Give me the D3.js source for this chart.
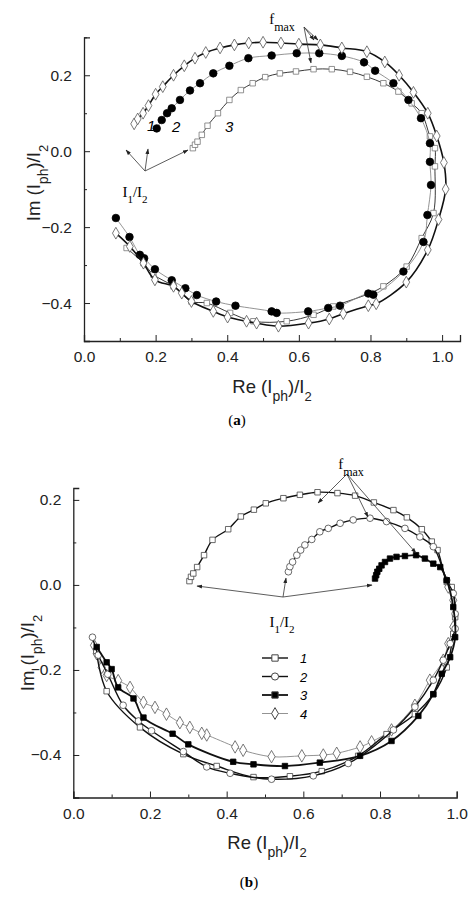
<!DOCTYPE html><html><head><meta charset="utf-8">
<script src="https://cdnjs.cloudflare.com/ajax/libs/d3/7.8.5/d3.min.js"></script>
<style>body{margin:0;background:#fff}svg{display:block}</style></head><body>
<svg id="c" width="474" height="916"></svg>
<script>
const xTicks=[0,0.2,0.4,0.6,0.8,1.0];
const yTicks=[-0.4,-0.2,0.0,0.2];
// panel a
const a1=[[0.14,0.072],[0.15,0.085],[0.165,0.1],[0.18,0.12],[0.2,0.15],[0.22,0.17],[0.25,0.2],[0.28,0.225],[0.31,0.245],[0.34,0.26],[0.38,0.272],[0.42,0.28],[0.46,0.285],[0.5,0.287],[0.55,0.285],[0.6,0.282],[0.66,0.28],[0.72,0.272],[0.79,0.262],[0.84,0.235],[0.88,0.2],[0.92,0.155],[0.96,0.1],[0.985,0.04],[1.005,-0.03],[1.01,-0.1],[0.99,-0.18],[0.96,-0.26],[0.9,-0.345],[0.816,-0.402],[0.794,-0.407],[0.724,-0.428],[0.685,-0.442],[0.627,-0.453],[0.543,-0.461],[0.482,-0.453],[0.454,-0.448],[0.401,-0.437],[0.361,-0.422],[0.3,-0.396],[0.273,-0.374],[0.25,-0.356],[0.198,-0.339],[0.166,-0.295],[0.128,-0.251],[0.089,-0.216]];
const a2=[[0.203,0.06],[0.217,0.082],[0.232,0.1],[0.245,0.113],[0.268,0.135],[0.296,0.16],[0.324,0.179],[0.361,0.205],[0.406,0.225],[0.459,0.245],[0.524,0.252],[0.594,0.258],[0.657,0.258],[0.72,0.251],[0.782,0.234],[0.813,0.212],[0.864,0.179],[0.906,0.135],[0.941,0.087],[0.966,0.021],[0.966,-0.028],[0.969,-0.089],[0.959,-0.168],[0.948,-0.239],[0.892,-0.317],[0.808,-0.378],[0.794,-0.375],[0.715,-0.407],[0.682,-0.413],[0.626,-0.422],[0.538,-0.426],[0.524,-0.422],[0.423,-0.407],[0.369,-0.396],[0.315,-0.379],[0.283,-0.361],[0.245,-0.34],[0.198,-0.311],[0.168,-0.282],[0.156,-0.273],[0.127,-0.226],[0.089,-0.176]];
const a3=[[0.304,0.008],[0.31,0.017],[0.317,0.025],[0.329,0.043],[0.345,0.067],[0.374,0.1],[0.406,0.135],[0.438,0.161],[0.471,0.179],[0.506,0.195],[0.547,0.205],[0.592,0.21],[0.641,0.216],[0.692,0.216],[0.743,0.209],[0.79,0.196],[0.836,0.179],[0.878,0.157],[0.915,0.126],[0.943,0.1],[0.966,0.039],[0.98,0.008],[0.98,-0.04],[0.976,-0.163],[0.943,-0.229],[0.901,-0.304],[0.836,-0.356],[0.799,-0.374],[0.696,-0.409],[0.641,-0.431],[0.566,-0.448],[0.473,-0.448],[0.408,-0.426],[0.343,-0.4],[0.3,-0.396],[0.25,-0.356],[0.194,-0.325],[0.166,-0.295],[0.119,-0.255]];
// panel b
const b1=[[0.303,0.009],[0.307,0.019],[0.313,0.027],[0.323,0.042],[0.341,0.07],[0.363,0.106],[0.404,0.131],[0.437,0.161],[0.471,0.177],[0.502,0.192],[0.548,0.204],[0.591,0.212],[0.637,0.218],[0.689,0.216],[0.735,0.21],[0.784,0.194],[0.835,0.176],[0.87,0.159],[0.909,0.131],[0.935,0.102],[0.95,0.082],[0.974,0.007],[0.987,-0.005],[0.996,-0.076],[0.991,-0.115],[0.974,-0.194],[0.939,-0.257],[0.891,-0.304],[0.817,-0.351],[0.743,-0.402],[0.648,-0.438],[0.565,-0.45],[0.47,-0.452],[0.374,-0.426],[0.287,-0.398],[0.174,-0.335],[0.087,-0.25],[0.06,-0.155]];
const b2=[[0.561,0.031],[0.565,0.043],[0.572,0.054],[0.583,0.07],[0.593,0.082],[0.604,0.094],[0.622,0.107],[0.643,0.125],[0.665,0.133],[0.696,0.145],[0.73,0.153],[0.774,0.157],[0.817,0.149],[0.865,0.133],[0.904,0.113],[0.939,0.09],[0.974,0.011],[0.991,-0.02],[0.996,-0.068],[0.996,-0.103],[0.983,-0.138],[0.965,-0.177],[0.939,-0.224],[0.891,-0.287],[0.835,-0.341],[0.717,-0.42],[0.626,-0.449],[0.517,-0.457],[0.409,-0.443],[0.348,-0.428],[0.287,-0.392],[0.204,-0.343],[0.17,-0.32],[0.13,-0.283],[0.09,-0.21],[0.065,-0.165],[0.05,-0.123]];
const b3=[[0.787,0.015],[0.79,0.023],[0.793,0.031],[0.798,0.038],[0.804,0.046],[0.813,0.054],[0.826,0.062],[0.843,0.066],[0.865,0.068],[0.894,0.07],[0.917,0.062],[0.939,0.05],[0.957,0.042],[0.974,0.011],[0.991,-0.052],[0.996,-0.123],[0.983,-0.17],[0.961,-0.209],[0.939,-0.257],[0.9,-0.308],[0.83,-0.367],[0.748,-0.402],[0.643,-0.418],[0.552,-0.426],[0.47,-0.422],[0.417,-0.416],[0.3,-0.375],[0.259,-0.35],[0.183,-0.312],[0.157,-0.267],[0.117,-0.241],[0.1,-0.198],[0.087,-0.182],[0.061,-0.146]];
const b4=[[0.978,-0.005],[0.991,-0.036],[0.991,-0.099],[0.978,-0.138],[0.965,-0.177],[0.93,-0.224],[0.891,-0.283],[0.83,-0.341],[0.778,-0.369],[0.748,-0.381],[0.687,-0.396],[0.652,-0.4],[0.596,-0.402],[0.517,-0.404],[0.443,-0.389],[0.422,-0.381],[0.348,-0.353],[0.335,-0.349],[0.304,-0.335],[0.278,-0.324],[0.243,-0.304],[0.213,-0.288],[0.183,-0.276],[0.148,-0.241],[0.117,-0.225],[0.087,-0.213],[0.074,-0.194],[0.061,-0.162],[0.054,-0.142]];
const legendLabels=["1","2","3","4"];

const svg=d3.select("#c");
const sym={diamond:d3.symbolDiamond,square:d3.symbolSquare,circle:d3.symbolCircle};
function panel(o){
  const x=d3.scaleLinear().domain([0,o.xmax]).range([o.x0,o.x1]);
  const y=d3.scaleLinear().domain([-0.5,o.ymax]).range([o.y1,o.y0]);
  const g=svg.append("g");
  g.append("g").attr("transform",`translate(0,${o.y1})`).call(d3.axisBottom(x).tickValues(xTicks).tickFormat(d3.format(".1f")).tickSize(-6).tickPadding(10));
  g.append("g").attr("transform",`translate(0,${o.y1})`).call(d3.axisBottom(x).tickValues(d3.range(0.1,o.xmax,0.2)).tickFormat("").tickSize(-3)).select(".domain").remove();
  g.append("g").attr("transform",`translate(${o.x0},0)`).call(d3.axisLeft(y).tickValues(yTicks).tickFormat(d=>d3.format(".1f")(d).replace("-","\u2212")).tickSize(-6).tickPadding(12));
  g.append("g").attr("transform",`translate(${o.x0},0)`).call(d3.axisLeft(y).tickValues([-0.5,-0.3,-0.1,0.1].concat(o.ymax>0.25?[0.3]:[])).tickFormat("").tickSize(-3)).select(".domain").remove();
  g.selectAll(".domain").attr("stroke","#222").attr("stroke-width",1.3);
  g.selectAll(".tick line").attr("stroke","#222");
  g.selectAll(".tick text").attr("font-family","Arial, Liberation Sans").attr("font-size",15.5).attr("fill","#222");
  const line=d3.line().x(d=>x(d[0])).y(d=>y(d[1])).curve(d3.curveCatmullRom);
  o.series.forEach(s=>{
    g.append("path").attr("d",line(s.data)).attr("fill","none").attr("stroke",s.lc).attr("stroke-width",s.lw);
    g.selectAll(null).data(s.data).join("path").attr("transform",d=>`translate(${x(d[0])},${y(d[1])})`)
     .attr("d",d3.symbol().type(sym[s.m]).size(s.sz)).attr("fill",s.fill).attr("stroke",s.sc).attr("stroke-width",0.8);
  });
  g.append("text").attr("x",o.xl[0]).attr("y",o.xl[1]).attr("text-anchor","middle").attr("font-family","Arial, Liberation Sans").attr("font-size",18.5).attr("fill","#222")
    .html('Re (I<tspan baseline-shift="sub" font-size="14">ph</tspan>)/I<tspan baseline-shift="sub" font-size="13">2</tspan>');
  g.append("text").attr("transform",`translate(${o.yl[0]},${o.yl[1]}) rotate(-90)`).attr("text-anchor","middle").attr("font-family","Arial, Liberation Sans").attr("font-size",18.5).attr("fill","#222")
    .html('Im (I<tspan baseline-shift="sub" font-size="14">ph</tspan>)/I<tspan baseline-shift="sub" font-size="13">2</tspan>');
  g.append("text").attr("x",o.cap[0]).attr("y",o.cap[1]).attr("text-anchor","middle").attr("font-family","Liberation Serif, serif").attr("font-size",15)
    .html('(<tspan font-weight="bold">'+o.capt+'</tspan>)');
  function arrow(p,q){g.append("line").attr("x1",p[0]).attr("y1",p[1]).attr("x2",q[0]).attr("y2",q[1]).attr("stroke","#333").attr("stroke-width",0.8).attr("marker-end","url(#ah)");}
  o.fmaxT.forEach(t=>arrow(o.fmaxO,t));
  o.iT.forEach(t=>arrow(o.iO,t));
  g.append("text").attr("x",o.fmaxL[0]).attr("y",o.fmaxL[1]).attr("text-anchor","middle").attr("font-family","Liberation Serif, serif").attr("font-size",15)
    .html('f<tspan baseline-shift="sub" font-size="12">max</tspan>');
  g.append("text").attr("x",o.iL[0]).attr("y",o.iL[1]).attr("text-anchor","middle").attr("font-family","Liberation Serif, serif").attr("font-size",15)
    .html('I<tspan baseline-shift="sub" font-size="11">1</tspan>/I<tspan baseline-shift="sub" font-size="11">2</tspan>');
  return {x,y,g};
}
svg.append("defs").append("marker").attr("id","ah").attr("viewBox","0 0 10 10").attr("refX",9).attr("refY",5).attr("markerWidth",7).attr("markerHeight",7).attr("orient","auto")
  .append("path").attr("d","M0,1.5L10,5L0,8.5Z").attr("fill","#222");

const pa=panel({x0:84,x1:460,xmax:1.05,y0:37.3,y1:341,ymax:0.3,
  series:[
    {data:a3,m:"square",sz:30,fill:"#fff",sc:"#777",lc:"#222",lw:0.9},
    {data:a2,m:"circle",sz:45,fill:"#000",sc:"#000",lc:"#888",lw:0.9},
    {data:a1,m:"diamond",sz:40,fill:"#fff",sc:"#555",lc:"#111",lw:1.6}],
  xl:[272,393],yl:[40,183],cap:[237,425],capt:"a",
  fmaxL:[282,24],fmaxO:[304,27],fmaxT:[[318,40],[314,40],[311,63]],
  iL:[135,197],iO:[145,171],iT:[[126,150],[148,149],[188,150]]});
[["1",147,131],["2",172,132],["3",225,132]].forEach(t=>pa.g.append("text").attr("x",t[1]).attr("y",t[2]).attr("font-family","Arial, Liberation Sans").attr("font-style","italic").attr("font-size",15).text(t[0]));

const pb=panel({x0:73.3,x1:456.7,xmax:1.0,y0:488,y1:797.5,ymax:0.228,
  series:[
    {data:b4,m:"diamond",sz:45,fill:"#fff",sc:"#555",lc:"#777",lw:0.8},
    {data:b1,m:"square",sz:30,fill:"#fff",sc:"#444",lc:"#111",lw:1.4},
    {data:b2,m:"circle",sz:35,fill:"#fff",sc:"#444",lc:"#111",lw:1.4},
    {data:b3,m:"square",sz:30,fill:"#000",sc:"#000",lc:"#111",lw:1.8}],
  xl:[267,849],yl:[34,653],cap:[249,887],capt:"b",
  fmaxL:[351,469],fmaxO:[347,474],fmaxT:[[318,503],[368,517],[416,553]],
  iL:[282,627],iO:[283,597],iT:[[197,586],[286,578],[372,585]]});
const leg=[{m:"square",fill:"#fff",lw:1.4,lc:"#111"},{m:"circle",fill:"#fff",lw:1.4,lc:"#111"},{m:"square",fill:"#000",lw:1.8,lc:"#111"},{m:"diamond",fill:"#fff",lw:0.8,lc:"#777"}];
legendLabels.forEach((l,i)=>{
  const yy=658+i*18.5, s=leg[i];
  pb.g.append("line").attr("x1",262).attr("x2",288).attr("y1",yy).attr("y2",yy).attr("stroke",s.lc).attr("stroke-width",s.lw);
  pb.g.append("path").attr("transform",`translate(275,${yy})`).attr("d",d3.symbol().type(sym[s.m]).size(40)).attr("fill",s.fill).attr("stroke","#444");
  pb.g.append("text").attr("x",300).attr("y",yy+5).attr("font-family","Arial, Liberation Sans").attr("font-style","italic").attr("font-size",13).text(l);
});
</script></body></html>
